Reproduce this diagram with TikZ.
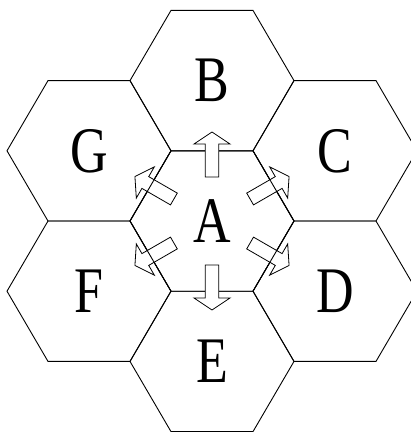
\documentclass[tikz,border=0pt]{standalone}
\usepackage{fontspec}
\usepackage{graphicx}
\setmainfont{Liberation Serif}
\usetikzlibrary{calc}
\newcommand{\narrowletter}[1]{\scalebox{0.8}[1]{#1}}
\begin{document}
\begin{tikzpicture}[x=1pt,y=-1pt,
  hexedge/.style={draw=black,line width=0.9pt,line join=miter},
  letter/.style={font=\fontsize{65}{65}\selectfont,inner sep=0pt},
  blockarrow/.style={draw=black,fill=white,line width=0.8pt,line join=miter}]
\useasboundingbox (0,0) rectangle (411,432);
\clip (0,0) rectangle (411,432);
\def\hexR{82}
\def\hexH{70.2}
% centres
\coordinate (cA) at (212,221);
\coordinate (cB) at (212,80.6);
\coordinate (cC) at (335,150.8);
\coordinate (cD) at (335,291.2);
\coordinate (cE) at (212,361.4);
\coordinate (cF) at (89,291.2);
\coordinate (cG) at (89,150.8);
% hexagons
\foreach \c in {A,B,C,D,E,F,G}{
  \draw[hexedge] ($(c\c)+(\hexR,0)$) -- ++(-41,-\hexH) -- ++(-\hexR,0) -- ++(-41,\hexH)
     -- ++(41,\hexH) -- ++(\hexR,0) -- cycle;
}
% arrows
\foreach \ang in {90,30,-30,-90,-150,150}{
  \begin{scope}[shift={(cA)},rotate=\ang]
    \draw[blockarrow] (44,-6.8) -- (77,-6.8) -- (77,-18) -- (89,0) -- (77,18) -- (77,6.8) -- (44,6.8) -- cycle;
  \end{scope}
}
% diagonal edges of A drawn over the arrows
\draw[hexedge] ($(cA)+(-41,-\hexH)$) -- ($(cA)+(-\hexR,0)$) -- ($(cA)+(-41,\hexH)$);
\draw[hexedge] ($(cA)+(41,-\hexH)$) -- ($(cA)+(\hexR,0)$) -- ($(cA)+(41,\hexH)$);
% letters
\node[letter] (A) at (cA) {\narrowletter{A}};
\node[letter] (B) at (cB) {\narrowletter{B}};
\node[letter] (C) at (cC) {\narrowletter{C}};
\node[letter] (D) at (cD) {\narrowletter{D}};
\node[letter] (E) at (cE) {\narrowletter{E}};
\node[letter] (F) at (cF) {\narrowletter{F}};
\node[letter] (G) at (cG) {\narrowletter{G}};
\end{tikzpicture}
\end{document}
